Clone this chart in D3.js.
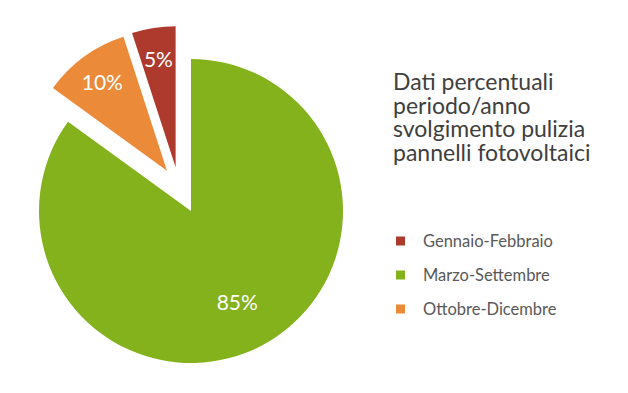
<!DOCTYPE html>
<html>
<head>
<meta charset="utf-8">
<script src="https://cdn.jsdelivr.net/npm/d3@7"></script>
<style>
  html, body { margin: 0; padding: 0; background: #ffffff; }
  svg { display: block; }
  text { font-family: Lato, "Open Sans", sans-serif; }
</style>
</head>
<body>
<svg id="chart" width="628" height="393"></svg>
<script>
// ---- data ----
const categories = ["Gennaio-Febbraio", "Marzo-Settembre", "Ottobre-Dicembre"];
const values = [5, 85, 10];
const labels = ["5%", "85%", "10%"];
const colors = ["#AE3A2D", "#84B21C", "#EB8A39"];
const pieOrder = ["Marzo-Settembre", "Ottobre-Dicembre", "Gennaio-Febbraio"];
const exploded = ["Gennaio-Febbraio", "Ottobre-Dicembre"];
const titleLines = ["Dati percentuali", "periodo/anno", "svolgimento pulizia", "pannelli fotovoltaici"];

// ---- layout ----
const cx = 191, cy = 211;
const rMain = 152, rExploded = 141;
const explodeGroup = 27, explodeEach = 20;

const svg = d3.select("#chart");

const rows = pieOrder.map(name => {
  const i = categories.indexOf(name);
  return { name, value: values[i], label: labels[i], color: colors[i] };
});

const pie = d3.pie().sort(null).value(d => d.value);
const arcs = pie(rows);

const exArcs = arcs.filter(a => exploded.includes(a.data.name));
const gStart = d3.min(exArcs, a => a.startAngle), gEnd = d3.max(exArcs, a => a.endAngle);
const gMid = (gStart + gEnd) / 2;
const unit = a => [Math.sin(a), -Math.cos(a)];

const g = svg.append("g").attr("transform", `translate(${cx},${cy})`);

arcs.forEach(a => {
  const isEx = exploded.includes(a.data.name);
  const r = isEx ? rExploded : rMain;
  let dx = 0, dy = 0;
  if (isEx) {
    const mid = (a.startAngle + a.endAngle) / 2;
    const [ux, uy] = unit(gMid), [vx, vy] = unit(mid);
    dx = explodeGroup * ux + explodeEach * vx;
    dy = explodeGroup * uy + explodeEach * vy;
  }
  const arc = d3.arc().innerRadius(0).outerRadius(r);
  const sg = g.append("g").attr("transform", `translate(${dx},${dy})`);
  sg.append("path").attr("d", arc(a)).attr("fill", a.data.color);
  const lr = isEx ? r * 0.78 : r * 0.67;
  const labelArc = d3.arc().innerRadius(lr).outerRadius(lr);
  const [lx, ly] = labelArc.centroid(a);
  sg.append("text")
    .attr("x", lx).attr("y", ly)
    .attr("text-anchor", "middle")
    .attr("dominant-baseline", "central")
    .attr("fill", "#ffffff")
    .attr("font-size", 21)
    .text(a.data.label);
});

// ---- title ----
const title = svg.append("text")
  .attr("fill", "#404040")
  .attr("font-size", 23);
titleLines.forEach((t, i) => {
  title.append("tspan").attr("x", 393).attr("y", 90 + i * 23.5).text(t);
});

// ---- legend ----
const legend = svg.append("g").attr("transform", "translate(396,241)");
categories.forEach((c, i) => {
  const row = legend.append("g").attr("transform", `translate(0,${i * 34})`);
  row.append("rect").attr("x", 0).attr("y", -4.5).attr("width", 9).attr("height", 9).attr("fill", colors[i]);
  row.append("text").attr("x", 27).attr("y", 0)
    .attr("dominant-baseline", "central")
    .attr("fill", "#595959")
    .attr("font-size", 16.5)
    .text(c);
});
</script>
</body>
</html>
